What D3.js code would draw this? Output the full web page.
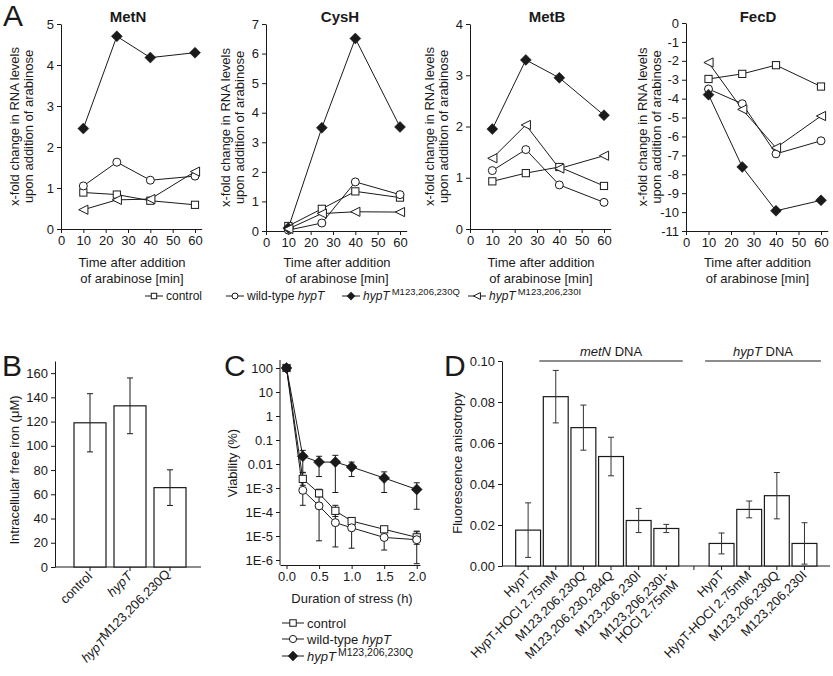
<!DOCTYPE html>
<html><head><meta charset="utf-8">
<script src="https://cdn.jsdelivr.net/npm/d3@7"></script>
<style>
body{margin:0;background:#fff}
text{font-family:"Liberation Sans",Arial,sans-serif;fill:#1a1a1a}
</style>
</head><body>
<script>
// ================= DATA =================
// Panel A: x-fold change in RNA levels
const timesA = [10, 25, 40, 60];
const seriesA = ["control", "wild-type hypT", "hypT M123,206,230Q", "hypT M123,206,230I"];
const metN_control = [0.89, 0.84, 0.69, 0.59];
const metN_wt      = [1.05, 1.63, 1.19, 1.29];
const metN_Q       = [2.45, 4.70, 4.18, 4.30];
const metN_I       = [0.47, 0.71, 0.73, 1.40];
const cysH_control = [0.17, 0.75, 1.34, 1.13];
const cysH_wt      = [0.03, 0.27, 1.66, 1.23];
const cysH_Q       = [0.10, 3.49, 6.51, 3.52];
const cysH_I       = [0.07, 0.59, 0.65, 0.64];
const metB_control = [0.93, 1.09, 1.21, 0.84];
const metB_wt      = [1.14, 1.55, 0.86, 0.52];
const metB_Q       = [1.95, 3.30, 2.95, 2.22];
const metB_I       = [1.38, 2.03, 1.18, 1.43];
const fecD_control = [-2.96, -2.69, -2.23, -3.36];
const fecD_wt      = [-3.49, -4.27, -6.92, -6.23];
const fecD_Q       = [-3.79, -7.61, -9.93, -9.38];
const fecD_I       = [-2.09, -4.57, -6.60, -4.92];
const xTicksA = [0, 10, 20, 30, 40, 50, 60];

// Panel B: intracellular free iron
const catsB = ["control", "hypT", "hypTM123,206,230Q"];
const valsB = [119, 133, 65.5];
const errB  = [24, 23, 14.7];
const yTicksB = [0, 20, 40, 60, 80, 100, 120, 140, 160];

// Panel C: viability (%)
const timesC = [0, 0.25, 0.5, 0.75, 1.0, 1.5, 2.0];
const viabControl   = [100, 0.0024, 0.0006, 0.000112, 0.000042, 0.000019, 0.0000088];
const viabControlHi = [100, 0.0043, 0.00089, 0.00019, 0.000056, 0.000023, 0.000016];
const viabControlLo = [100, 0.0013, 0.00043, 0.000065, 0.000031, 0.000016, 0.0000045];
const viabWT   = [100, 0.00080, 0.00018, 0.000036, 0.000022, 0.0000087, 0.0000070];
const viabWTHi = [100, 0.0018, 0.00046, 0.000093, 0.000045, 0.000014, 0.000015];
const viabWTLo = [100, 0.00019, 0.0000063, 0.0000035, 0.0000031, 0.0000026, 0.0000007];
const viabQ   = [100, 0.021, 0.012, 0.012, 0.0075, 0.0026, 0.00087];
const viabQHi = [100, 0.037, 0.021, 0.023, 0.012, 0.0047, 0.00165];
const viabQLo = [100, 0.0045, 0.0030, 0.00065, 0.0030, 0.00065, 0.00013];
const yTicksC = [100, 10, 1, 0.1, 0.01, 1e-3, 1e-4, 1e-5, 1e-6];
const yTickLabelsC = ["100", "10", "1", "0.1", "0.01", "1E-3", "1E-4", "1E-5", "1E-6"];
const xTicksC = [0, 0.5, 1.0, 1.5, 2.0];

// Panel D: fluorescence anisotropy
const catsD = ["HypT", "HypT-HOCl 2.75mM", "M123,206,230Q", "M123,206,230,284Q", "M123,206,230I",
               "M123,206,230I-|HOCl 2.75mM", "", "HypT", "HypT-HOCl 2.75mM", "M123,206,230Q", "M123,206,230I"];
const valsD = [0.0175, 0.0826, 0.0675, 0.0534, 0.0222, 0.0183, null, 0.0110, 0.0276, 0.0343, 0.0110];
const errD  = [0.0133, 0.0128, 0.0110, 0.0094, 0.0059, 0.0020, null, 0.0051, 0.0041, 0.0113, 0.0101];
const yTicksD = [0, 0.02, 0.04, 0.06, 0.08, 0.10];
const groupsD = [{label: "metN", first: 1, last: 5}, {label: "hypT", first: 7, last: 10}];

// ================= DRAWING =================
const svg = d3.select("body").append("svg").attr("width", 833).attr("height", 676);
const INK = "#1a1a1a";
const FS = 13;

function styleAxis(g) {
  g.attr("font-family", null).attr("font-size", null);
  g.selectAll("text").style("font-size", FS + "px").attr("fill", INK);
  g.selectAll("line,path").attr("stroke", INK).attr("stroke-width", 1);
}

function marker(g, type, x, y, k = 1) {
  if (type === "square") {
    const h = 3.6 * k;
    g.append("rect").attr("x", x - h).attr("y", y - h).attr("width", 2 * h).attr("height", 2 * h)
      .attr("fill", "#fff").attr("stroke", INK).attr("stroke-width", 1);
  } else if (type === "circle") {
    g.append("circle").attr("cx", x).attr("cy", y).attr("r", 4 * k)
      .attr("fill", "#fff").attr("stroke", INK).attr("stroke-width", 1);
  } else if (type === "diamond") {
    const h = 5.5 * k;
    g.append("path").attr("d", `M${x},${y - h}L${x + h},${y}L${x},${y + h}L${x - h},${y}Z`)
      .attr("fill", INK).attr("stroke", INK).attr("stroke-width", 0.5);
  } else if (type === "tri") {
    const h = 4.6 * k;
    g.append("path").attr("d", `M${x - h},${y}L${x + h},${y - h}L${x + h},${y + h}Z`)
      .attr("fill", "#fff").attr("stroke", INK).attr("stroke-width", 1);
  }
}
const markerTypes = ["square", "circle", "diamond", "tri"];

function letter(t, x, y) {
  svg.append("text").attr("x", x).attr("y", y).text(t).style("font-size", "30px");
}

// ---------- Panel A ----------
const panelsA = [
  {title: "MetN", series: [metN_control, metN_wt, metN_Q, metN_I], domain: [0, 5], ticks: [0,1,2,3,4,5],
   x0: 61, x60: 195, yb: 229, yt: 24, titleX: 128, labX: 19},
  {title: "CysH", series: [cysH_control, cysH_wt, cysH_Q, cysH_I], domain: [0, 7], ticks: [0,1,2,3,4,5,6,7],
   x0: 266, x60: 400, yb: 231, yt: 24, titleX: 340, labX: 230},
  {title: "MetB", series: [metB_control, metB_wt, metB_Q, metB_I], domain: [0, 4], ticks: [0,1,2,3,4],
   x0: 470, x60: 604, yb: 229, yt: 24, titleX: 547, labX: 434},
  {title: "FecD", series: [fecD_control, fecD_wt, fecD_Q, fecD_I], domain: [-11, 0], ticks: d3.range(-11, 1),
   x0: 686, x60: 821, yb: 231, yt: 23, titleX: 758, labX: 647}
];

panelsA.forEach(p => {
  const g = svg.append("g");
  const x = d3.scaleLinear().domain([0, 63]).range([p.x0, p.x0 + (p.x60 - p.x0) * 63 / 60]);
  const y = d3.scaleLinear().domain(p.domain).range([p.yb, p.yt]);
  g.append("g").attr("transform", `translate(0,${p.yb})`)
    .call(d3.axisBottom(x).tickValues(xTicksA).tickSize(4).tickSizeOuter(0).tickFormat(d => String(d)))
    .call(styleAxis);
  g.append("g").attr("transform", `translate(${p.x0},0)`)
    .call(d3.axisLeft(y).tickValues(p.ticks).tickSize(4).tickSizeOuter(0).tickFormat(d => String(d)))
    .call(styleAxis);
  g.append("text").attr("x", p.titleX).attr("y", 22).attr("text-anchor", "middle")
    .style("font-size", "15px").style("font-weight", "bold").text(p.title);
  const cy = (p.yb + p.yt) / 2;
  const yl = g.append("text").attr("transform", `translate(${p.labX},${cy}) rotate(-90)`)
    .attr("text-anchor", "middle").style("font-size", FS + "px");
  yl.append("tspan").attr("x", 0).attr("dy", 0).text("x-fold change in RNA levels");
  yl.append("tspan").attr("x", 0).attr("dy", "1.05em").text("upon addition of arabinose");
  const cx = (p.x0 + p.x60) / 2 + 4;
  g.append("text").attr("x", cx).attr("y", 267).attr("text-anchor", "middle").style("font-size", FS + "px").text("Time after addition");
  g.append("text").attr("x", cx).attr("y", 283).attr("text-anchor", "middle").style("font-size", FS + "px").text("of arabinose [min]");
  const line = d3.line().x((d, i) => x(timesA[i])).y(d => y(d));
  p.series.forEach((s, si) => {
    g.append("path").attr("d", line(s)).attr("fill", "none").attr("stroke", INK).attr("stroke-width", 1);
  });
  p.series.forEach((s, si) => {
    s.forEach((v, i) => marker(g, markerTypes[si], x(timesA[i]), y(v)));
  });
});

// legends
function legendItem(g, type, x, y, parts, len, fs, k) {
  g.append("line").attr("x1", x).attr("x2", x + len).attr("y1", y).attr("y2", y).attr("stroke", INK);
  marker(g, type, x + len / 2, y, k);
  const t = g.append("text").attr("x", x + len + 3).attr("y", y + fs * 0.36).style("font-size", fs + "px");
  parts.forEach(pt => {
    const ts = t.append("tspan").text(pt.t);
    if (pt.i) ts.style("font-style", "italic");
    if (pt.sup) ts.style("font-size", (fs - 2.5) + "px").attr("dy", -5).attr("dx", 2);
  });
}
const legA = svg.append("g");
const legParts = [
  [{t: "control"}],
  [{t: "wild-type "}, {t: "hypT", i: true}],
  [{t: "hypT", i: true}, {t: "M123,206,230Q", sup: true}],
  [{t: "hypT", i: true}, {t: "M123,206,230I", sup: true}]
];
[145, 226, 342, 468].forEach((lx, i) => legendItem(legA, markerTypes[i], lx, 296, legParts[i], 18, 12, 0.75));

letter("A", 3, 26);
letter("B", 2, 376);
letter("C", 224, 376);
letter("D", 444, 376);

// ---------- Panel B ----------
{
  const g = svg.append("g");
  const x = d3.scaleBand().domain(catsB).range([70, 190]).paddingInner(0.2).paddingOuter(0.1);
  const y = d3.scaleLinear().domain([0, 170]).range([567, 361]);
  g.append("path").attr("d", `M55,567H201`).attr("stroke", INK);
  g.append("g").attr("transform", "translate(0,567)")
    .call(d3.axisBottom(x).tickSize(4).tickSizeOuter(0).tickFormat(""))
    .call(styleAxis).select(".domain").remove();
  g.append("g").attr("transform", "translate(55,0)")
    .call(d3.axisLeft(y).tickValues(yTicksB).tickSize(4).tickSizeOuter(0))
    .call(styleAxis);
  catsB.forEach((c, i) => {
    const bx = x(c), bw = x.bandwidth(), cxx = bx + bw / 2;
    g.append("rect").attr("x", bx).attr("y", y(valsB[i])).attr("width", bw).attr("height", y(0) - y(valsB[i]))
      .attr("fill", "#fff").attr("stroke", INK).attr("stroke-width", 1.2);
    g.append("path").attr("d", `M${cxx},${y(valsB[i] + errB[i])}V${y(valsB[i] - errB[i])}M${cxx - 3},${y(valsB[i] + errB[i])}h6M${cxx - 3},${y(valsB[i] - errB[i])}h6`)
      .attr("stroke", INK).attr("fill", "none");
    const t = g.append("text").attr("transform", `translate(${cxx + 3},${577}) rotate(-45)`).attr("text-anchor", "end").style("font-size", FS + "px");
    if (i === 0) t.text("control");
    else if (i === 1) t.append("tspan").style("font-style", "italic").text("hypT");
    else {
      t.append("tspan").style("font-style", "italic").text("hypT");
      t.append("tspan").attr("dy", -3).text("M123,206,230Q");
    }
  });
  g.append("text").attr("transform", "translate(19,470) rotate(-90)").attr("text-anchor", "middle")
    .style("font-size", FS + "px").text("Intracellular free iron (μM)");
}

// ---------- Panel C ----------
{
  const g = svg.append("g");
  const x = d3.scaleLinear().domain([-0.1, 2.05]).range([280, 420]);
  const yC = d3.scaleLog().domain([1e-6, 100]).range([560, 368]);
  g.append("g").attr("transform", "translate(0,565)")
    .call(d3.axisBottom(x).tickValues(xTicksC).tickSize(4).tickSizeOuter(0).tickFormat(d3.format(".1f")))
    .call(styleAxis);
  const ya = g.append("g").attr("transform", "translate(280,0)")
    .call(d3.axisLeft(yC).tickValues(yTicksC).tickSize(4).tickSizeOuter(0).tickFormat((d, i) => yTickLabelsC[i]))
    .call(styleAxis);
  ya.select(".domain").attr("d", "M0,565V360");
  const series = [
    {v: viabControl, hi: viabControlHi, lo: viabControlLo, m: "square"},
    {v: viabWT, hi: viabWTHi, lo: viabWTLo, m: "circle"},
    {v: viabQ, hi: viabQHi, lo: viabQLo, m: "diamond"}
  ];
  series.forEach(s => {
    s.v.forEach((v, i) => {
      const px = x(timesC[i]);
      if (s.hi[i] !== s.lo[i]) {
        g.append("path").attr("d", `M${px},${yC(s.hi[i])}V${yC(s.lo[i])}M${px - 3},${yC(s.hi[i])}h6M${px - 3},${yC(s.lo[i])}h6`)
          .attr("stroke", INK).attr("fill", "none");
      }
    });
  });
  const line = d3.line().x((d, i) => x(timesC[i])).y(d => yC(d));
  series.forEach(s => g.append("path").attr("d", line(s.v)).attr("fill", "none").attr("stroke", INK));
  series.forEach(s => s.v.forEach((v, i) => marker(g, s.m, x(timesC[i]), yC(v))));
  g.append("text").attr("transform", "translate(237,463) rotate(-90)").attr("text-anchor", "middle")
    .style("font-size", FS + "px").text("Viability (%)");
  g.append("text").attr("x", 352).attr("y", 603).attr("text-anchor", "middle").style("font-size", FS + "px").text("Duration of stress (h)");
  const legC = svg.append("g");
  const partsC = [
    [{t: "control"}],
    [{t: "wild-type "}, {t: "hypT", i: true}],
    [{t: "hypT", i: true}, {t: "M123,206,230Q", sup: true}]
  ];
  [623, 639, 656].forEach((ly, i) => legendItem(legC, markerTypes[i], 282, ly, partsC[i], 22, 13, 0.9));
}

// ---------- Panel D ----------
{
  const g = svg.append("g");
  const idx = d3.range(catsD.length);
  const x = d3.scaleBand().domain(idx).range([514.3, 818.3]).paddingInner(0.1).paddingOuter(0.05);
  const y = d3.scaleLinear().domain([0, 0.1]).range([566, 361]);
  g.append("path").attr("d", "M502,566H830").attr("stroke", INK);
  g.append("g").attr("transform", "translate(0,566)")
    .call(d3.axisBottom(x).tickSize(4).tickSizeOuter(0).tickFormat(""))
    .call(styleAxis).select(".domain").remove();
  g.append("g").attr("transform", "translate(502,0)")
    .call(d3.axisLeft(y).tickValues(yTicksD).tickSize(4).tickSizeOuter(0).tickFormat(d3.format(".2f")))
    .call(styleAxis);
  idx.forEach(i => {
    const bx = x(i), bw = x.bandwidth(), cxx = bx + bw / 2;
    if (valsD[i] !== null) {
      g.append("rect").attr("x", bx).attr("y", y(valsD[i])).attr("width", bw).attr("height", y(0) - y(valsD[i]))
        .attr("fill", "#fff").attr("stroke", INK).attr("stroke-width", 1.2);
      g.append("path").attr("d", `M${cxx},${y(valsD[i] + errD[i])}V${y(valsD[i] - errD[i])}M${cxx - 3},${y(valsD[i] + errD[i])}h6M${cxx - 3},${y(valsD[i] - errD[i])}h6`)
        .attr("stroke", "#333").attr("fill", "none");
    }
    if (catsD[i]) {
      const lines = catsD[i].split("|");
      const t = g.append("text").attr("transform", `translate(${cxx + 3},${576}) rotate(-45)`).attr("text-anchor", "end").style("font-size", FS + "px");
      lines.forEach((l, li) => t.append("tspan").attr("x", 0).attr("dy", li ? "1.05em" : 0).text(l));
    }
  });
  groupsD.forEach(gr => {
    const x1 = x(gr.first) - 4, x2 = x(gr.last) + x.bandwidth() + 4;
    g.append("line").attr("x1", x1).attr("x2", x2).attr("y1", 361).attr("y2", 361).attr("stroke", INK);
    const t = g.append("text").attr("x", (x1 + x2) / 2).attr("y", 356).attr("text-anchor", "middle").style("font-size", FS + "px");
    t.append("tspan").style("font-style", "italic").text(gr.label);
    t.append("tspan").text(" DNA");
  });
  g.append("text").attr("transform", "translate(462,463) rotate(-90)").attr("text-anchor", "middle")
    .style("font-size", FS + "px").text("Fluorescence anisotropy");
}
</script>
</body></html>
